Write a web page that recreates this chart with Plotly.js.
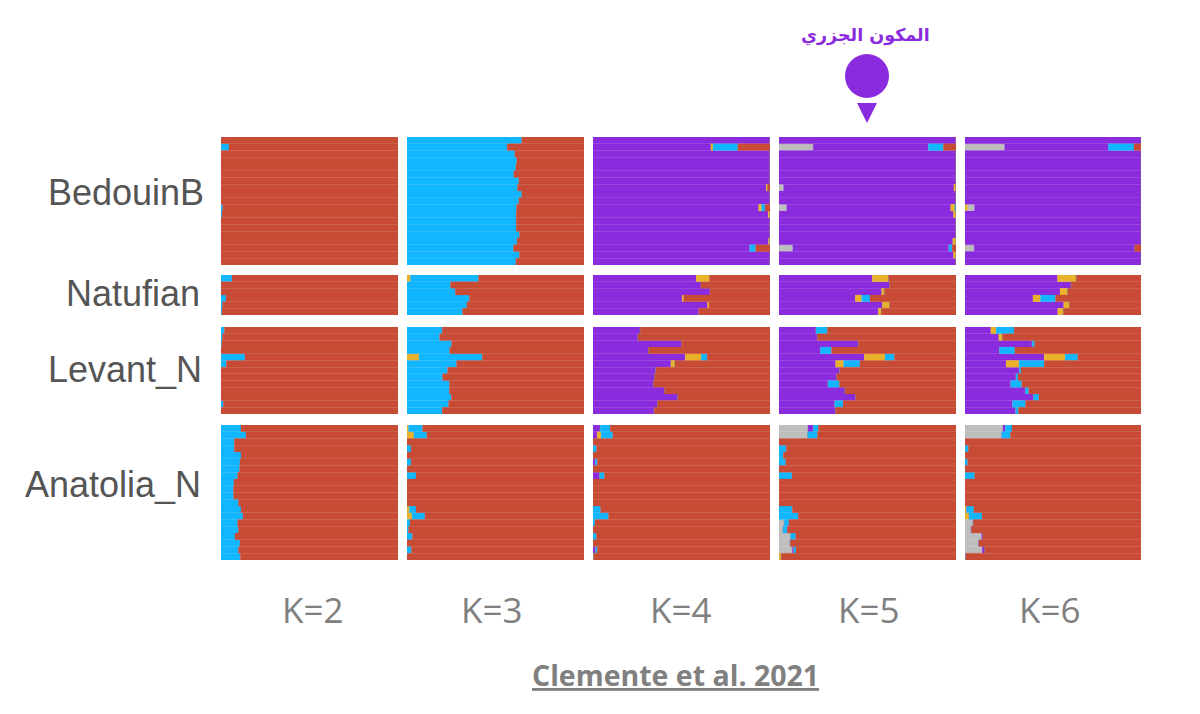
<!DOCTYPE html>
<html>
<head>
<meta charset="utf-8">
<script src="https://cdn.plot.ly/plotly-3.0.1.min.js"></script>
<style>html,body{margin:0;padding:0;background:#fff}#chart{width:1200px;height:714px}
.trace.bars path{shape-rendering:geometricPrecision !important}</style>
</head>
<body>
<div id="chart"></div>
<script>
// Colours
const RED='#C84B36', BLUE='#12B6FF', PURPLE='#8A2BDD', GOLD='#EAB12B', GRAY='#BEBEBE';

// Labels
const groupLabels=['BedouinB','Natufian','Levant_N','Anatolia_N'];
const kLabels=['K=2','K=3','K=4','K=5','K=6'];
const sourceLabel='Clemente et al. 2021';
const markerLabel='المكون الجزري';

// BedouinB (19 individuals, top to bottom)
const bedK2Blue=[0,4.5,0,0,0,0,0,0,0,0,1,0.5,0,0,0,0,0,0,0];
const bedK2Red=[100,95.5,100,100,100,100,100,100,100,100,99,99.5,100,100,100,100,100,100,100];
const bedK3Blue=[64.8,56.6,60.9,62,61.5,60.3,63.2,62.4,64.8,63.2,61.9,61.7,61.7,61.7,63.5,62.2,60.2,63.5,61.5];
const bedK3Red=[35.2,43.4,39.1,38,38.5,39.7,36.8,37.6,35.2,36.8,38.1,38.3,38.3,38.3,36.5,37.8,39.8,36.5,38.5];
const bedK4Purple=[100,66.6,100,100,100,100,100,97.8,100,100,93.6,99,100,100,100,99.2,88.6,100,100];
const bedK4Gold=[0,1.2,0,0,0,0,0,0.8,0,0,1.6,1,0,0,0,0.8,0,0,0];
const bedK4Blue=[0,14,0,0,0,0,0,0,0,0,2,0,0,0,0,0,3.2,0,0];
const bedK4Red=[0,18.2,0,0,0,0,0,1.4,0,0,2.8,0,0,0,0,0,8.2,0,0];
const bedK5Gray=[0,19.3,0,0,0,0,0,2.6,0,0,4.4,0,0,0,0,0,7.8,0,0];
const bedK5Purple=[100,65.1,100,100,100,100,100,96.2,100,100,92.6,98.6,100,100,100,98.2,88.2,98.6,100];
const bedK5Gold=[0,0,0,0,0,0,0,1.2,0,0,2.4,1.4,0,0,0,1.8,0,1.4,0];
const bedK5Blue=[0,8.4,0,0,0,0,0,0,0,0,0.6,0,0,0,0,0,1.8,0,0];
const bedK5Red=[0,7.2,0,0,0,0,0,0,0,0,0,0,0,0,0,0,2.2,0,0];
const bedK6Gold=[0,0,0,0,0,0,0,0,0,0,1.6,0,0,0,0,0,0.4,0,0];
const bedK6Gray=[0,22.5,0,0,0,0,0,0,0,0,3.8,0,0,0,0,0,4.8,0,0];
const bedK6Purple=[100,59,100,100,100,100,100,100,100,100,94.6,100,100,100,100,100,91.2,100,100];
const bedK6Blue=[0,14.5,0,0,0,0,0,0,0,0,0,0,0,0,0,0,0,0,0];
const bedK6Red=[0,4,0,0,0,0,0,0,0,0,0,0,0,0,0,0,3.6,0,0];

// Natufian (6 individuals)
const natK2Blue=[6.2,0,0,2.8,0.9,0.5];
const natK2Red=[93.8,100,100,97.2,99.1,99.5];
const natK3Gold=[2,0,0,0,0,0];
const natK3Blue=[38.4,24.6,27.3,35.2,33.8,31.4];
const natK3Red=[59.6,75.4,72.7,64.8,66.2,68.6];
const natK4Purple=[58.3,61.1,66.2,50.4,64.7,59.8];
const natK4Gold=[7.5,0,0,0.8,0.9,0];
const natK4Red=[34.2,38.9,33.8,48.8,34.4,40.2];
const natK5Purple=[52.7,62.5,58,43.1,58.4,56.1];
const natK5Gold=[9.2,0,1.5,3.6,4.1,1.7];
const natK5Blue=[0,0,0,4.7,0,0];
const natK5Red=[38.1,37.5,40.5,48.6,37.5,42.2];
const natK6Purple=[52.5,60.3,54,38.6,56.1,52.7];
const natK6Gold=[10.7,0,4.3,4.3,3.2,3.2];
const natK6Blue=[0,0,0,8.5,0,0];
const natK6Red=[36.8,39.7,41.7,48.6,40.7,44.1];

// Levant_N (13 individuals)
const levK2Blue=[1.9,0.8,0.4,0,13.5,3,0,0,0,0,0,1.3,0];
const levK2Red=[98.1,99.2,99.6,100,86.5,97,100,100,100,100,100,98.7,100];
const levK3Gold=[0,0,0,0,6.8,0,0,0,0,0,0,0,0];
const levK3Blue=[19.9,18.4,25.2,24.1,35.7,28,22.9,20.1,24,23.9,25,23.5,19.9];
const levK3Red=[80.1,81.6,74.8,75.9,57.5,72,77.1,79.9,76,76.1,75,76.5,80.1];
const levK4Purple=[26.7,25.4,50,31.4,52.1,44,35.5,34.8,34.2,40.4,47.9,36.5,34.6];
const levK4Gold=[0,0,0,0,9,2.3,0,0,0,0,0,0,0];
const levK4Blue=[0,0,0,0,3.4,0,0,0,0,0,0,0,0];
const levK4Red=[73.3,74.6,50,68.6,35.5,53.7,64.5,65.2,65.8,59.6,52.1,63.5,65.4];
const levK5Purple=[20.9,21.7,44.8,23.4,48.2,32,34.3,32.6,27.7,37.3,43.3,31.5,32];
const levK5Gold=[0,0,0,0,11.7,4.5,0,0,0,0,0,0,0];
const levK5Blue=[6.4,0,0,6.2,5.3,9.2,0,0,6.4,0,0,4.7,0];
const levK5Red=[72.7,78.3,55.2,70.4,34.8,54.3,65.7,67.4,65.9,62.7,56.7,63.8,68];
const levK6Purple=[14.7,19.2,38.2,19.6,45,23.4,30.9,29,26,34.3,39,27,28.8];
const levK6Gold=[3,2.1,0,0,11.9,7.3,0,0,0,0,0,0,0];
const levK6Blue=[10.2,0,1.3,8.7,7.2,14.3,0.9,1.1,6.2,1.9,3,7.4,1.5];
const levK6Red=[72.1,78.7,60.5,71.7,35.9,55,68.2,69.9,67.8,63.8,58,65.6,69.7];

// Anatolia_N (20 individuals)
const anaK2Blue=[11.3,14.1,7.5,7.5,11.3,10.7,10.5,9.4,7.3,7,7.1,9.8,11.3,12.4,9.4,9.8,7.9,10.7,9.8,10.9];
const anaK2Red=[88.7,85.9,92.5,92.5,88.7,89.3,89.5,90.6,92.7,93,92.9,90.2,88.7,87.6,90.6,90.2,92.1,89.3,90.2,89.1];
const anaK3Gold=[0.9,3.9,0,0,0,0,0,0,0,0,0,0,1.3,2.8,0,0,0,0,0,0];
const anaK3Blue=[7.9,7.3,0,2.3,0,2.3,0,5.1,0,0,0,0,3.8,7.3,1.7,0.8,3,0,2.4,0];
const anaK3Red=[91.2,88.8,100,97.7,100,97.7,100,94.9,100,100,100,100,94.9,89.9,98.3,99.2,97,100,97.6,100];
const anaK4Purple=[4.1,2.3,0,0,0,1.3,0,3.8,0,0,0,0,0,0,0,0,0,0,1.5,0];
const anaK4Gold=[0,2.3,0,0,0,0,0,0,0,0,0,0,0,0,0,0,0,0,0,0.4];
const anaK4Blue=[5.6,6.6,0,2,0,1.1,0,2.6,0,0,0,0,4.3,8.8,1.1,0,1.9,0,0.9,0];
const anaK4Red=[90.3,88.8,100,98,100,97.6,100,93.6,100,100,100,100,95.7,91.2,98.9,100,98.1,100,97.6,99.6];
const anaK5Gray=[16.4,16.2,0,0,0,0,0,0,0,0,0,0,0,0,3,2.3,6.6,6.4,7.5,0];
const anaK5Purple=[3,0,0,0,0,0,0,0,0,0,0,0,0,0,0,0,0,0,0.9,0];
const anaK5Gold=[0,0,0,0,0,0,0,0,0,0,0,0,0,0,0,0,0,0,0,1.3];
const anaK5Blue=[2.8,5.5,0,4.1,2.4,3.8,0,7.3,0,0,0,0,7.5,10.9,2.6,2.3,2.8,0,1.2,0];
const anaK5Red=[77.8,78.3,100,95.9,97.6,96.2,100,92.7,100,100,100,100,92.5,89.1,94.4,95.4,90.6,93.6,90.4,98.7];
const anaK6Gold=[0,0,0,0,0,0,0,0,0,0,0,0,0.9,2.4,0,0,0,0,0,0];
const anaK6Gray=[21.6,20.9,0,0,0,0,0,0,0,0,0,0,0,0,4.7,3.6,9.4,7.9,9.8,0.4];
const anaK6Purple=[1.3,0,0,0,0,0,0,0,0,0,0,0,0,0,0,0,0.6,0,1.3,0];
const anaK6Blue=[3.8,4.9,0,1.9,0,1.5,0,5.5,0,0,0,0,4.1,7.3,0,0,0,0,0,0];
const anaK6Red=[73.3,74.2,100,98.1,100,98.5,100,94.5,100,100,100,100,95,90.3,95.3,96.4,90,92.1,88.9,99.6];

// Panels: rows by group, columns by K; stacking order left to right.
const panelSeries=[
 [
  [[BLUE,bedK2Blue],[RED,bedK2Red]],
  [[BLUE,bedK3Blue],[RED,bedK3Red]],
  [[PURPLE,bedK4Purple],[GOLD,bedK4Gold],[BLUE,bedK4Blue],[RED,bedK4Red]],
  [[GRAY,bedK5Gray],[PURPLE,bedK5Purple],[GOLD,bedK5Gold],[BLUE,bedK5Blue],[RED,bedK5Red]],
  [[GOLD,bedK6Gold],[GRAY,bedK6Gray],[PURPLE,bedK6Purple],[BLUE,bedK6Blue],[RED,bedK6Red]]
 ],[
  [[BLUE,natK2Blue],[RED,natK2Red]],
  [[GOLD,natK3Gold],[BLUE,natK3Blue],[RED,natK3Red]],
  [[PURPLE,natK4Purple],[GOLD,natK4Gold],[RED,natK4Red]],
  [[PURPLE,natK5Purple],[GOLD,natK5Gold],[BLUE,natK5Blue],[RED,natK5Red]],
  [[PURPLE,natK6Purple],[GOLD,natK6Gold],[BLUE,natK6Blue],[RED,natK6Red]]
 ],[
  [[BLUE,levK2Blue],[RED,levK2Red]],
  [[GOLD,levK3Gold],[BLUE,levK3Blue],[RED,levK3Red]],
  [[PURPLE,levK4Purple],[GOLD,levK4Gold],[BLUE,levK4Blue],[RED,levK4Red]],
  [[PURPLE,levK5Purple],[GOLD,levK5Gold],[BLUE,levK5Blue],[RED,levK5Red]],
  [[PURPLE,levK6Purple],[GOLD,levK6Gold],[BLUE,levK6Blue],[RED,levK6Red]]
 ],[
  [[BLUE,anaK2Blue],[RED,anaK2Red]],
  [[GOLD,anaK3Gold],[BLUE,anaK3Blue],[RED,anaK3Red]],
  [[PURPLE,anaK4Purple],[GOLD,anaK4Gold],[BLUE,anaK4Blue],[RED,anaK4Red]],
  [[GRAY,anaK5Gray],[PURPLE,anaK5Purple],[GOLD,anaK5Gold],[BLUE,anaK5Blue],[RED,anaK5Red]],
  [[GOLD,anaK6Gold],[GRAY,anaK6Gray],[PURPLE,anaK6Purple],[BLUE,anaK6Blue],[RED,anaK6Red]]
 ]
];

// Page geometry in pixels
const W=1200,H=714;
const colEdges=[[221,398],[407,584],[593,770],[779,956],[965,1141]];
const rowEdges=[[137,265],[275,315],[327,414],[425,560]];
const groupLabelX=[205.5,202,204,202.5];
const groupLabelY=[193,293,369,484];
const kLabelX=[313,492,680,868,1049];
const px=x=>x/W, py=y=>1-y/H;

const traces=[];
const layout={
  width:W,height:H,margin:{l:0,r:0,t:0,b:0},
  paper_bgcolor:'#fff',plot_bgcolor:'#fff',
  barmode:'stack',bargap:0,showlegend:false,
  annotations:[],shapes:[]
};

panelSeries.forEach((row,r)=>{
  row.forEach((series,c)=>{
    const n=r*5+c+1, ax=n===1?'':n;
    const count=series[0][1].length;
    const cats=series[0][1].map((_,i)=>i);
    series.forEach(([color,vals])=>{
      traces.push({type:'bar',orientation:'h',x:vals,y:cats,xaxis:'x'+ax,yaxis:'y'+ax,
        marker:{color:color,line:{color:color,width:0.25}}});
    });
    layout['xaxis'+ax]={domain:[px(colEdges[c][0]),px(colEdges[c][1])],range:[0,100],visible:false,fixedrange:true,anchor:'y'+ax};
    layout['yaxis'+ax]={domain:[py(rowEdges[r][1]),py(rowEdges[r][0])],range:[count-0.5,-0.5],visible:false,fixedrange:true,anchor:'x'+ax};
  });
});

const note=(text,x,y,size,color,family,xanchor)=>layout.annotations.push({
  text,xref:'paper',yref:'paper',x:px(x),y:py(y),xanchor:xanchor||'center',yanchor:'middle',
  showarrow:false,font:{size,color,family}
});
groupLabels.forEach((t,i)=>note(t,groupLabelX[i],groupLabelY[i],36,'#555555','"Liberation Sans", Arial, sans-serif','right'));
kLabels.forEach((t,i)=>note(t,kLabelX[i],609,35,'#808080','"Open Sans", sans-serif'));
note('<b><u>'+sourceLabel+'</u></b>',675,675,28.5,'#808080','"Open Sans", sans-serif');
note('<b>'+markerLabel+'</b>',865,35,17.5,PURPLE,'"DejaVu Sans", sans-serif');

// Pin above the K=5 column
layout.shapes.push({type:'circle',xref:'paper',yref:'paper',x0:px(845),x1:px(889),y0:py(98),y1:py(54),fillcolor:'#8A2BDD',line:{width:0}});
layout.shapes.push({type:'path',xref:'paper',yref:'paper',path:`M ${px(857)} ${py(103)} L ${px(877)} ${py(103)} L ${px(867)} ${py(123)} Z`,fillcolor:'#8A2BDD',line:{width:0}});

Plotly.newPlot('chart',traces,layout,{displayModeBar:false,staticPlot:true});
</script>
</body>
</html>
